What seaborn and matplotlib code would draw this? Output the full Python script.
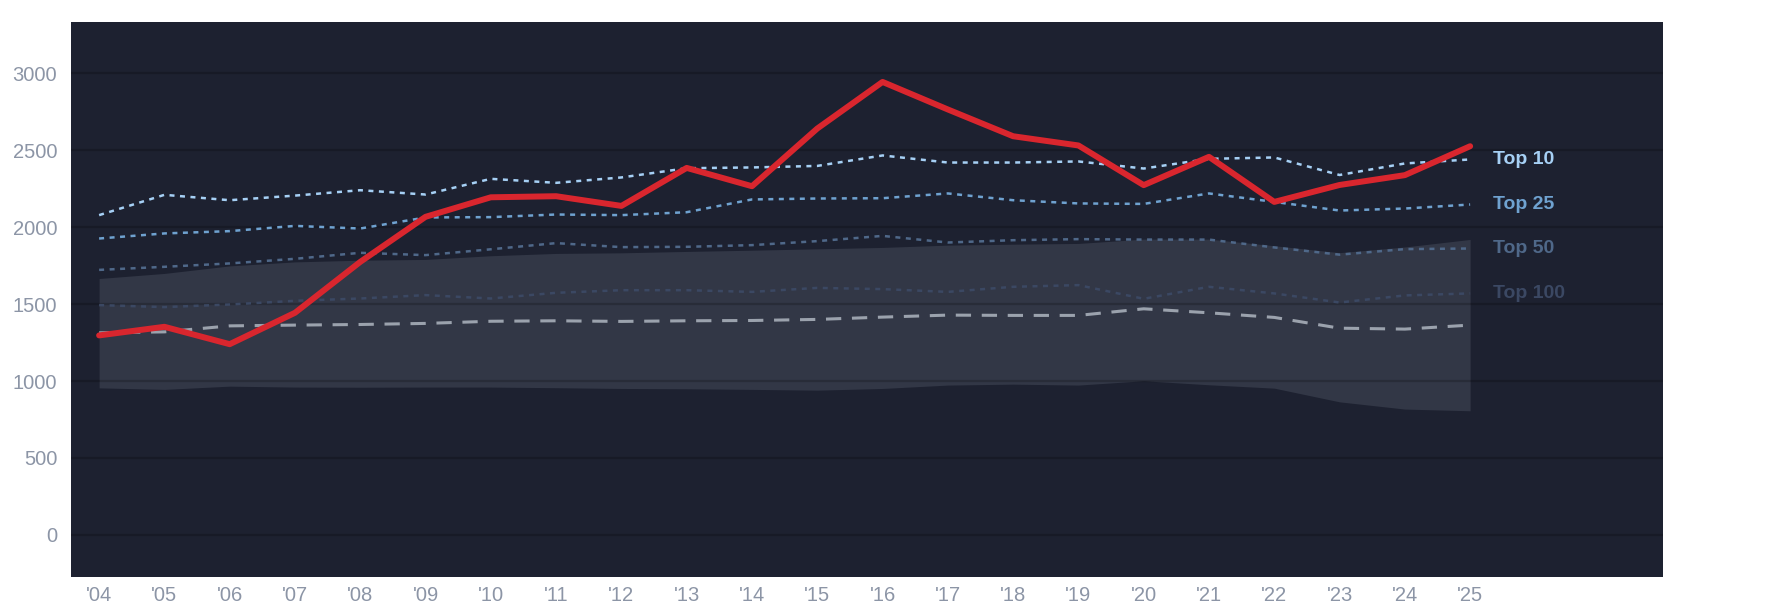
import numpy as np
import pandas as pd
import matplotlib
matplotlib.use("Agg")
import matplotlib.pyplot as plt
import seaborn as sns

# season labels
years = ["'04", "'05", "'06", "'07", "'08", "'09", "'10", "'11", "'12", "'13", "'14",
         "'15", "'16", "'17", "'18", "'19", "'20", "'21", "'22", "'23", "'24", "'25"]

# highlighted series
player = [1297, 1353, 1240, 1444, 1775, 2068, 2195, 2202, 2139, 2386, 2267,
          2642, 2945, 2766, 2592, 2532, 2274, 2458, 2165, 2275, 2339, 2527]

# tier averages
top10 = [2079, 2211, 2176, 2206, 2241, 2213, 2315, 2289, 2324, 2384, 2389,
         2399, 2467, 2421, 2421, 2428, 2382, 2445, 2454, 2340, 2415, 2441]
top25 = [1927, 1960, 1975, 2009, 1992, 2064, 2066, 2083, 2079, 2098, 2181,
         2187, 2189, 2220, 2176, 2155, 2152, 2220, 2165, 2109, 2122, 2148]
top50 = [1723, 1743, 1765, 1795, 1834, 1819, 1857, 1897, 1871, 1873, 1884,
         1910, 1944, 1901, 1916, 1923, 1920, 1920, 1869, 1822, 1858, 1862]
top100 = [1494, 1481, 1498, 1522, 1537, 1559, 1537, 1574, 1591, 1591, 1580,
          1606, 1598, 1580, 1613, 1624, 1535, 1613, 1570, 1511, 1557, 1570]
league_avg = [1314, 1320, 1359, 1364, 1368, 1375, 1389, 1392, 1388, 1392, 1394,
              1401, 1416, 1429, 1427, 1427, 1470, 1444, 1414, 1344, 1338, 1364]

# spread band
band_low = [956, 946, 967, 961, 960, 961, 961, 957, 952, 950, 946,
            941, 952, 974, 980, 974, 1002, 976, 954, 865, 818, 807]
band_high = [1667, 1700, 1749, 1775, 1786, 1791, 1815, 1830, 1834, 1843, 1851,
             1860, 1869, 1884, 1890, 1895, 1923, 1923, 1880, 1835, 1872, 1921]

tiers = ["Top 10", "Top 25", "Top 50", "Top 100"]
tier_values = [top10, top25, top50, top100]
tier_colors = ["#a6d0f5", "#6fa2d0", "#4f6889", "#3b4863"]

BG = "#1d2130"
TICK = "#8c95a6"

df = pd.DataFrame({"x": np.arange(len(years)), "player": player,
                   "avg": league_avg, "low": band_low, "high": band_high})
for name, vals in zip(tiers, tier_values):
    df[name] = vals

sns.set_style("white")
plt.rcParams["font.family"] = ["Liberation Sans", "DejaVu Sans"]

fig = plt.figure(figsize=(17.85, 6.14), dpi=100)
ax = fig.add_axes([0.0398, 0.0607, 0.8917, 0.9038])
ax.set_facecolor(BG)

ax.fill_between(df["x"], df["low"], df["high"], color="#323746", lw=0, zorder=1)

sns.lineplot(data=df, x="x", y="avg", ax=ax, color="#9ba2ad", lw=2.2,
             linestyle=(0, (5, 3.5)), zorder=3)
for name, col in zip(tiers[::-1], tier_colors[::-1]):
    sns.lineplot(data=df, x="x", y=name, ax=ax, color=col, lw=1.8,
                 linestyle=(0, (2, 2.2)), zorder=3)
sns.lineplot(data=df, x="x", y="player", ax=ax, color="#d9262e", lw=4.3,
             zorder=5)

for name, col in zip(tiers, tier_colors):
    ax.annotate(name, xy=(df["x"].iloc[-1], df[name].iloc[-1]),
                xytext=(16.5, 0), textcoords="offset points",
                va="center", ha="left", fontsize=14, fontweight="bold",
                color=col)

ax.set_xlim(-0.43, 23.95)
ax.set_ylim(-272, 3336)
ax.set_xticks(df["x"])
ax.set_xticklabels(years)
ax.set_yticks(range(0, 3001, 500))
ax.set_xlabel("")
ax.set_ylabel("")
ax.tick_params(axis="both", length=0, labelsize=14.5, labelcolor=TICK)
ax.tick_params(axis="y", pad=10)
ax.tick_params(axis="x", pad=7)
ax.set_axisbelow("line")
ax.grid(axis="y", color="black", alpha=0.2, lw=1.6)
ax.grid(axis="x", visible=False)
for s in ax.spines.values():
    s.set_visible(False)

fig.savefig("out.png", dpi=100, facecolor="white")
